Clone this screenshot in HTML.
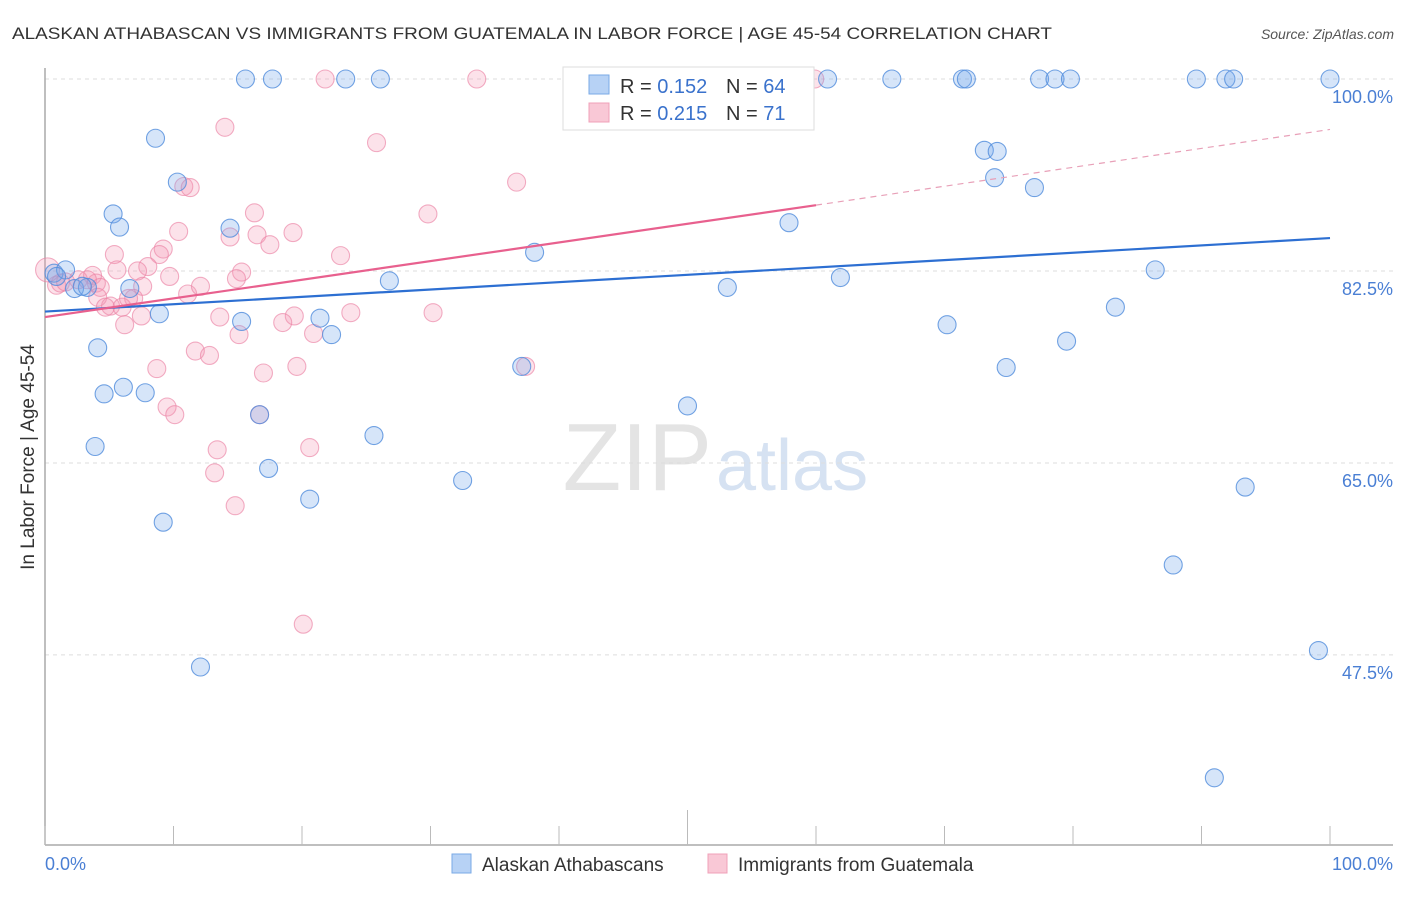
<!DOCTYPE html>
<html><head><meta charset="utf-8"><style>
body{margin:0;background:#fff;font-family:"Liberation Sans",sans-serif;}
svg text{font-family:"Liberation Sans",sans-serif;}
</style></head><body>
<svg id="chart" width="1406" height="892" viewBox="0 0 1406 892" xmlns="http://www.w3.org/2000/svg">
<text x="12" y="39" font-size="17" fill="#333" textLength="1040" lengthAdjust="spacingAndGlyphs">ALASKAN ATHABASCAN VS IMMIGRANTS FROM GUATEMALA IN LABOR FORCE | AGE 45-54 CORRELATION CHART</text>
<text x="1394" y="39" font-size="14" fill="#555" font-style="italic" text-anchor="end">Source: ZipAtlas.com</text>
<text x="712" y="490" font-size="96" fill="#e4e4e4" text-anchor="end" font-family="Liberation Serif">ZIP</text>
<text x="716" y="490" font-size="72" fill="#d6e2f2">atlas</text>
<text transform="translate(34,457) rotate(-90)" font-size="19" fill="#333" text-anchor="middle">In Labor Force | Age 45-54</text>
<g id="grid"></g><g id="axes"></g><g id="pink"></g><g id="blue"></g><g id="trends"></g>
<g>
<rect x="563" y="67" width="251" height="63" fill="#fff" stroke="#ddd"/>
<rect x="589" y="75" width="20" height="19" fill="#b7d2f5" stroke="#7aaae6"/>
<rect x="589" y="103" width="20" height="19" fill="#f9c8d6" stroke="#f0a0b8"/>
<text x="620" y="93" font-size="20" fill="#333">R = <tspan fill="#3a72cc">0.152</tspan></text>
<text x="726" y="93" font-size="20" fill="#333">N = <tspan fill="#3a72cc">64</tspan></text>
<text x="620" y="120" font-size="20" fill="#333">R = <tspan fill="#3a72cc">0.215</tspan></text>
<text x="726" y="120" font-size="20" fill="#333">N = <tspan fill="#3a72cc"> 71</tspan></text>
</g>
<g>
<rect x="452" y="854" width="19" height="19" fill="#b7d2f5" stroke="#7aaae6"/>
<text x="482" y="871" font-size="19" fill="#333">Alaskan Athabascans</text>
<rect x="708" y="854" width="19" height="19" fill="#f9c8d6" stroke="#f0a0b8"/>
<text x="738" y="871" font-size="19" fill="#333">Immigrants from Guatemala</text>
</g>
<text x="45" y="870" font-size="18" fill="#4a7fd4">0.0%</text>
<text x="1393" y="870" font-size="18" fill="#4a7fd4" text-anchor="end">100.0%</text>
</svg>
<script>
const yTicks=[100,82.5,65,47.5];
const yTickLabels=["100.0%","82.5%","65.0%","47.5%"];
const xTicks=[0,10,20,30,40,50,60,70,80,90,100];
const blueX=[15.6,17.7,23.4,26.1,60.9,65.9,71.4,71.7,77.4,78.6,79.8,89.6,91.9,92.5,100,8.6,10.3,5.3,5.8,14.4,38.1,57.9,73.1,74.1,73.9,77.0,0.7,1.6,0.9,2.3,3.3,2.9,6.6,8.9,15.3,21.4,22.3,26.8,53.1,61.9,86.4,83.3,70.2,79.5,74.8,4.1,6.1,4.6,7.8,37.1,50.0,16.7,3.9,25.6,17.4,32.5,20.6,9.2,93.4,87.8,12.1,99.1,91.0];
const blueY=[100,100,100,100,100,100,100,100,100,100,100,100,100,100,100,94.6,90.6,87.7,86.5,86.4,84.2,86.9,93.5,93.4,91.0,90.1,82.3,82.6,82.0,80.9,81.0,81.1,80.9,78.6,77.9,78.2,76.7,81.6,81.0,81.9,82.6,79.2,77.6,76.1,73.7,75.5,71.9,71.3,71.4,73.8,70.2,69.4,66.5,67.5,64.5,63.4,61.7,59.6,62.8,55.7,46.4,47.9,36.3];
const pinkX=[21.8,33.6,59.9,14.0,25.8,36.7,10.8,11.3,16.3,29.8,10.4,19.3,14.4,16.5,17.5,9.2,8.9,5.4,23.0,8.0,5.6,7.2,15.3,9.7,3.7,2.6,4.0,3.3,0.9,1.2,1.6,4.3,7.6,6.9,11.1,12.1,14.9,4.1,5.1,6.0,4.7,6.5,7.5,6.2,13.6,19.4,18.5,23.8,30.2,15.1,20.9,11.7,12.8,8.7,17.0,19.6,37.4,9.5,10.1,16.7,13.4,20.6,13.2,14.8,20.1,0.2];
const pinkY=[100,100,100,95.6,94.2,90.6,90.2,90.1,87.8,87.7,86.1,86.0,85.6,85.8,84.9,84.5,84.0,84.0,83.9,82.9,82.6,82.5,82.4,82.0,82.1,81.7,81.4,81.7,81.2,81.4,81.5,81.0,81.1,80.0,80.4,81.1,81.8,80.1,79.3,79.2,79.2,80.0,78.4,77.6,78.3,78.4,77.8,78.7,78.7,76.7,76.8,75.2,74.8,73.6,73.2,73.8,73.8,70.1,69.4,69.4,66.2,66.4,64.1,61.1,50.3,82.6];
const blueTrend=[78.8,85.5];
const pinkTrend=[78.3,88.5,95.4];
const NS="http://www.w3.org/2000/svg";
const X0=45,X1=1330,Y100=79,PXPER=10.97;
function sx(v){return X0+(X1-X0)*v/100;}
function sy(v){return Y100+(100-v)*PXPER;}
function mk(tag,attrs,parent){const e=document.createElementNS(NS,tag);for(const k in attrs)e.setAttribute(k,attrs[k]);document.getElementById(parent).appendChild(e);return e;}
yTicks.forEach((t,i)=>{
 const l=mk('line',{x1:45,x2:1393,y1:sy(t),y2:sy(t),stroke:'#ddd','stroke-dasharray':'4,4'},'grid');
 
 
 const tx=mk('text',{x:1393,y:sy(t)+24,'font-size':18,fill:'#4a7fd4','text-anchor':'end'},'grid');
 tx.textContent=yTickLabels[i];
 
 
});
const ax=mk('line',{x1:45,x2:1393,y1:845,y2:845,stroke:'#aaa','stroke-width':1.5},'axes');


const ay=mk('line',{x1:45,x2:45,y1:68,y2:845,stroke:'#aaa','stroke-width':1.5},'axes');


xTicks.forEach(t=>{
 const l=mk('line',{x1:sx(t),x2:sx(t),y1:(t===50?810:826),y2:845,stroke:'#bbb'},'axes');
 
 
});
pinkX.forEach((v,i)=>{
 const c=mk('circle',{cx:sx(v),cy:sy(pinkY[i]),r:(i===pinkX.length-1?12:9),fill:'rgba(244,150,180,0.28)',stroke:'rgba(235,130,165,0.65)','stroke-width':1.1},'pink');
 
 
});
blueX.forEach((v,i)=>{
 const c=mk('circle',{cx:sx(v),cy:sy(blueY[i]),r:9,fill:'rgba(120,170,235,0.3)',stroke:'rgba(80,140,220,0.8)','stroke-width':1.1},'blue');
 
 
});
const bt=mk('line',{x1:sx(0),y1:sy(blueTrend[0]),x2:sx(100),y2:sy(blueTrend[1]),stroke:'#2d6fd2','stroke-width':2.2},'trends');


const pt=mk('line',{x1:sx(0),y1:sy(pinkTrend[0]),x2:sx(60),y2:sy(pinkTrend[1]),stroke:'#e8608e','stroke-width':2.2},'trends');


const pd=mk('line',{x1:sx(60),y1:sy(pinkTrend[1]),x2:sx(100),y2:sy(pinkTrend[2]),stroke:'#e8a0b8','stroke-width':1.2,'stroke-dasharray':'6,5'},'trends');


</script>
</body></html>
